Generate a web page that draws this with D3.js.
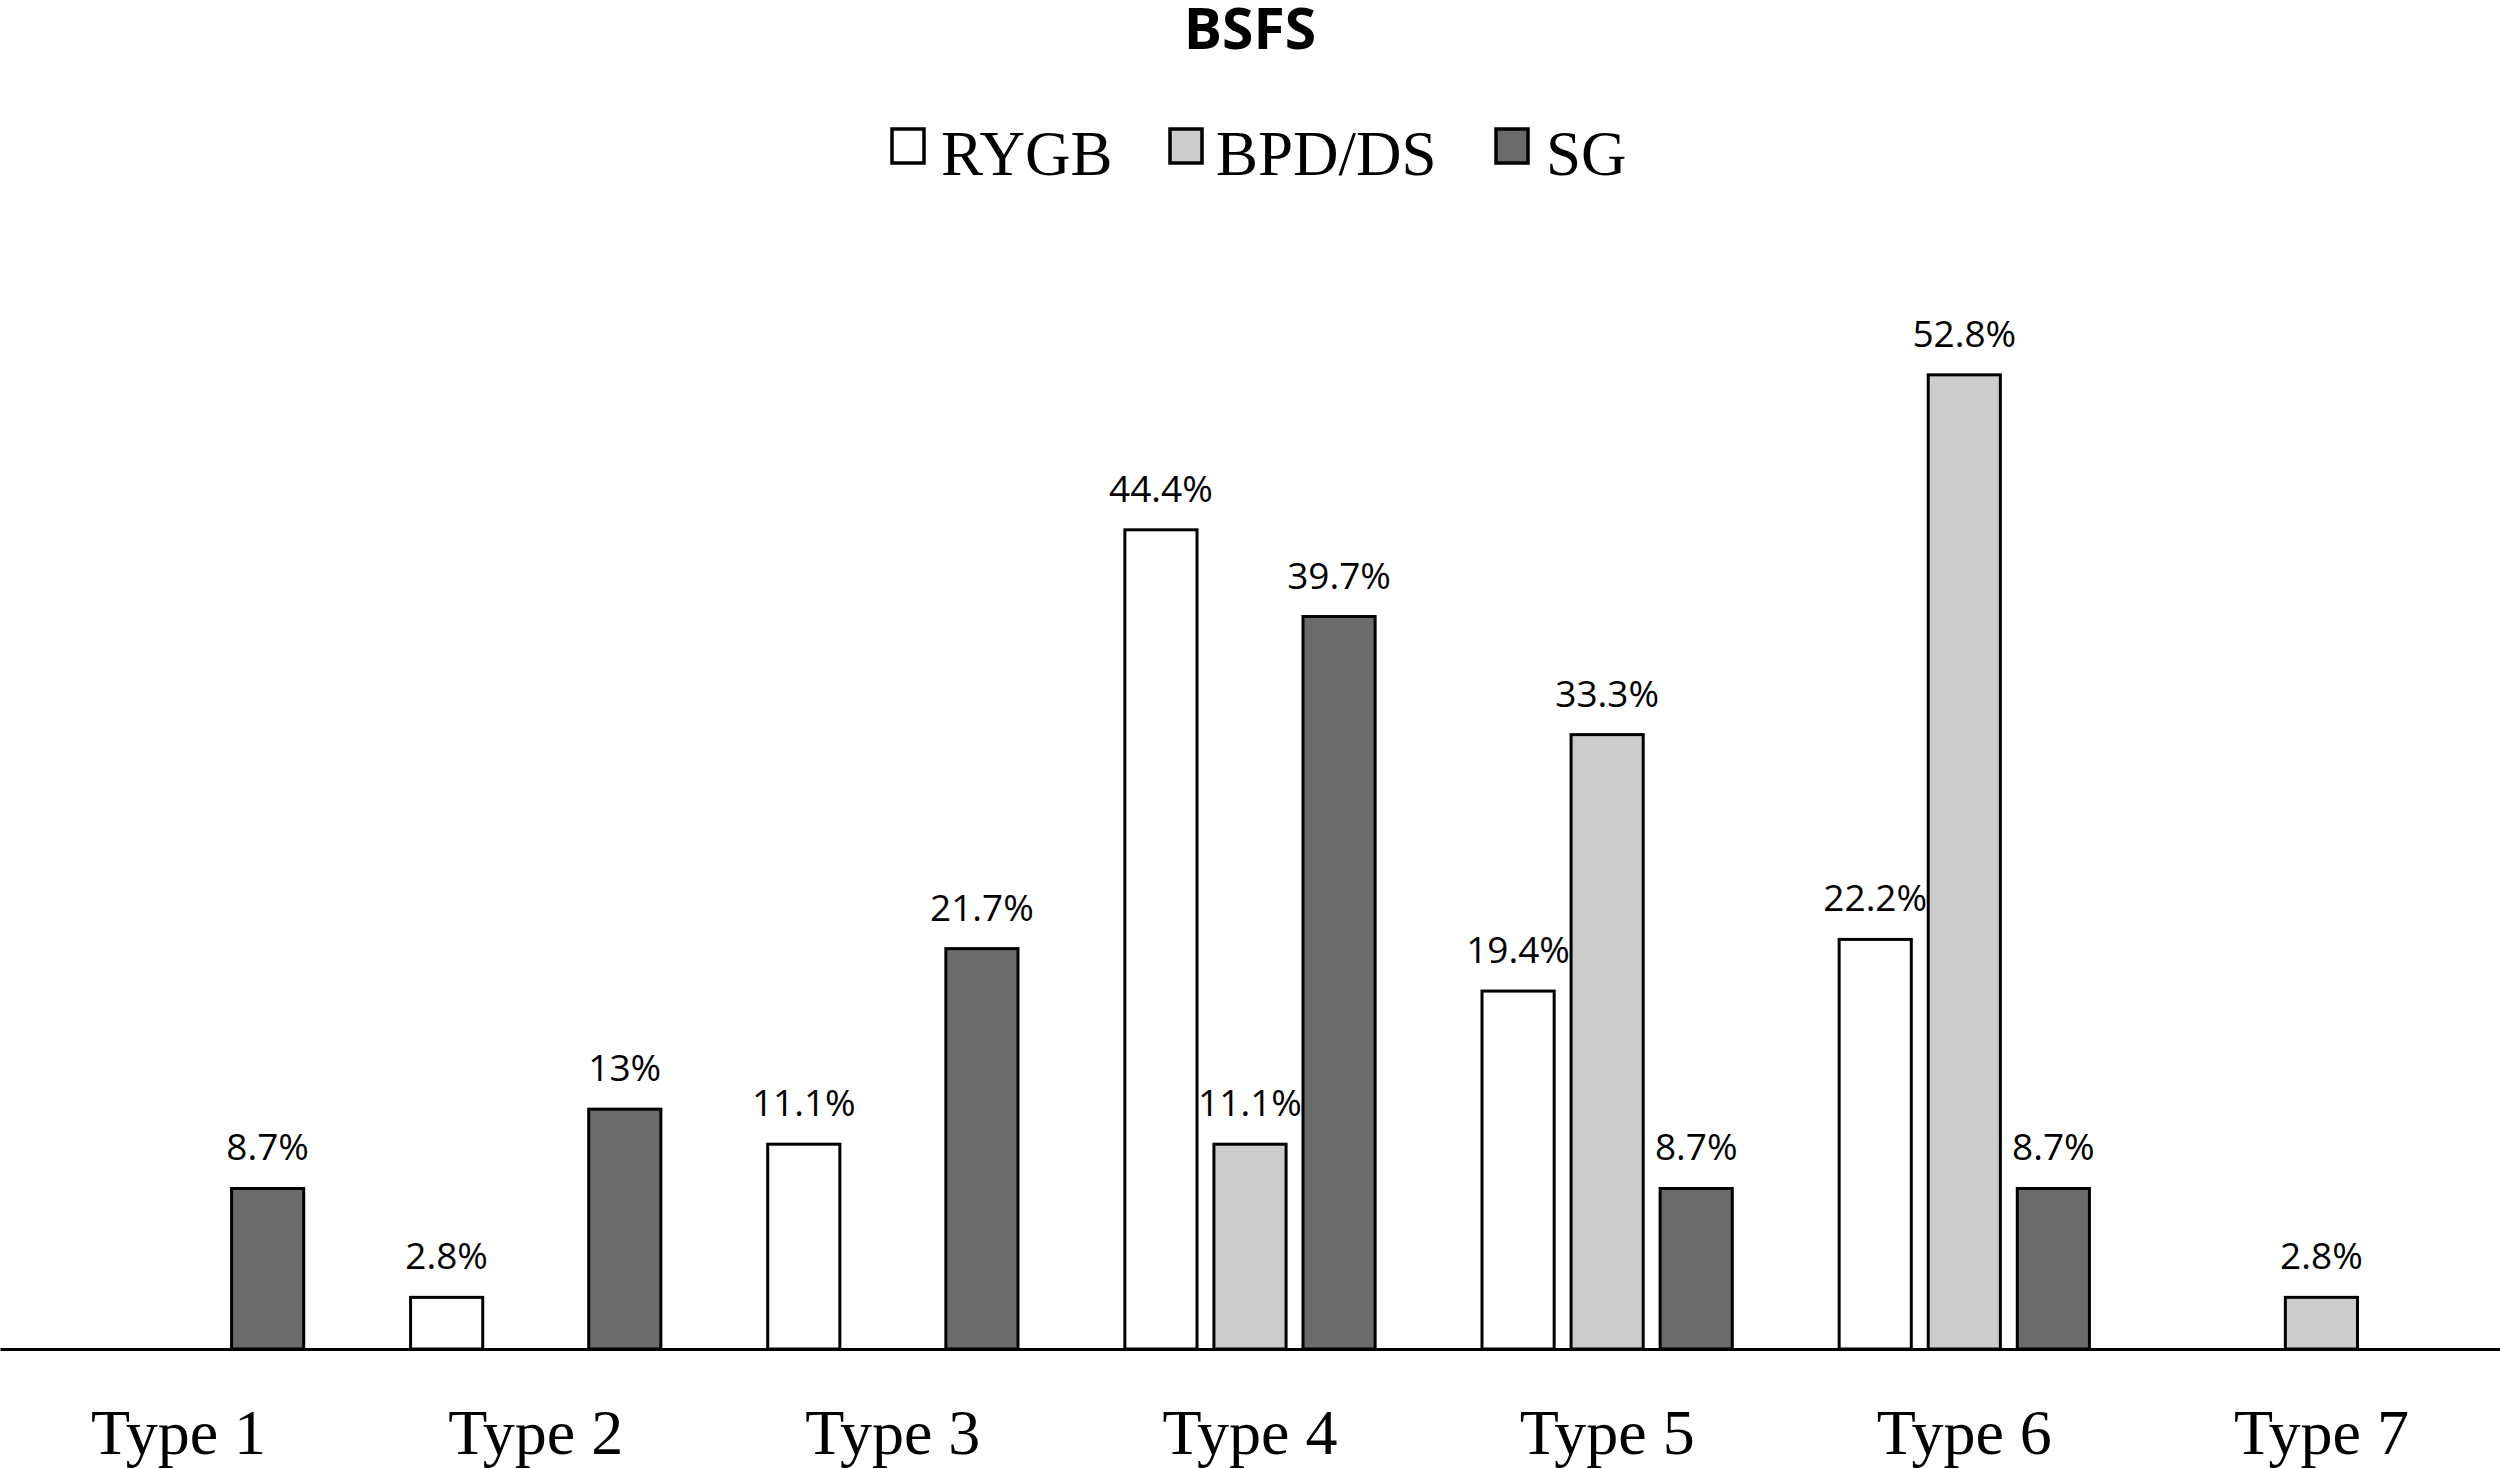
<!DOCTYPE html>
<html>
<head>
<meta charset="utf-8">
<script src="https://cdn.jsdelivr.net/npm/d3@7"></script>
<style>
  body { margin: 0; background: #fff; }
</style>
</head>
<body>
<div id="chart"></div>
<script>
const width = 2500;
const height = 1468;

const categories = ['Type 1', 'Type 2', 'Type 3', 'Type 4', 'Type 5', 'Type 6', 'Type 7'];
const seriesNames = ['RYGB', 'BPD/DS', 'SG'];
const rygb = [null, 2.8, 11.1, 44.4, 19.4, 22.2, null];
const bpdds = [null, null, null, 11.1, 33.3, 52.8, 2.8];
const sg = [8.7, 13, 21.7, 39.7, 8.7, 8.7, null];
const seriesColors = ['#ffffff', '#cccccc', '#6b6b6b'];

const values = [rygb, bpdds, sg];
const baseline = 1349;

// flatten into one row per bar
const bars = [];
seriesNames.forEach((s, i) => {
    categories.forEach((c, j) => {
        if (values[i][j] != null) bars.push({series: s, category: c, value: values[i][j]});
    });
});

const svg = d3.select('#chart')
    .append('svg')
    .attr('width', width)
    .attr('height', height);

const x0 = d3.scaleBand()
    .domain(categories)
    .range([0, width])
    .padding(0);

const x1 = d3.scaleBand()
    .domain(seriesNames)
    .range([0, x0.bandwidth()])
    .paddingInner(0.19)
    .paddingOuter(0.6);

const y = d3.scaleLinear()
    .domain([0, 60])
    .range([baseline, baseline - 60 * 18.45]);

const color = d3.scaleOrdinal()
    .domain(seriesNames)
    .range(seriesColors);

// title
svg.append('text')
    .attr('x', width / 2)
    .attr('y', 49)
    .attr('text-anchor', 'middle')
    .style('font-family', '"Open Sans", sans-serif')
    .style('font-weight', 'bold')
    .style('font-size', '57px')
    .text('BSFS');

// legend
const legendItems = [
    {name: 'RYGB', sx: 892, tx: 941},
    {name: 'BPD/DS', sx: 1170, tx: 1216},
    {name: 'SG', sx: 1496, tx: 1546}
];
const legend = svg.append('g');
legend.selectAll('rect')
    .data(legendItems)
    .join('rect')
    .attr('x', d => d.sx)
    .attr('y', 129)
    .attr('width', 32)
    .attr('height', 34)
    .attr('fill', d => color(d.name))
    .attr('stroke', '#000')
    .attr('stroke-width', 3.5);
legend.selectAll('text')
    .data(legendItems)
    .join('text')
    .attr('x', d => d.tx)
    .attr('y', 175)
    .style('font-family', '"Liberation Serif", "Times New Roman", serif')
    .style('font-size', '63px')
    .text(d => d.name);

// bars
svg.append('g')
    .selectAll('rect')
    .data(bars)
    .join('rect')
    .attr('x', d => x0(d.category) + x1(d.series))
    .attr('y', d => y(d.value))
    .attr('width', x1.bandwidth())
    .attr('height', d => y(0) - y(d.value))
    .attr('fill', d => color(d.series))
    .attr('stroke', '#000')
    .attr('stroke-width', 3);

// value labels
svg.append('g')
    .selectAll('text')
    .data(bars)
    .join('text')
    .attr('x', d => x0(d.category) + x1(d.series) + x1.bandwidth() / 2)
    .attr('y', d => y(d.value) - 28)
    .attr('text-anchor', 'middle')
    .style('font-family', '"Open Sans", sans-serif')
    .style('font-size', '37px')
    .text(d => d.value + '%');

// x axis
svg.append('g')
    .attr('transform', `translate(0,${baseline})`)
    .call(d3.axisBottom(x0).tickSize(0).tickSizeOuter(0))
    .call(g => g.select('.domain').attr('stroke', '#000').attr('stroke-width', 3))
    .call(g => g.selectAll('.tick text')
        .attr('y', 105)
        .attr('dy', 0)
        .attr('fill', '#000')
        .style('font-family', '"Liberation Serif", "Times New Roman", serif')
        .style('font-size', '64px'));
</script>
</body>
</html>
